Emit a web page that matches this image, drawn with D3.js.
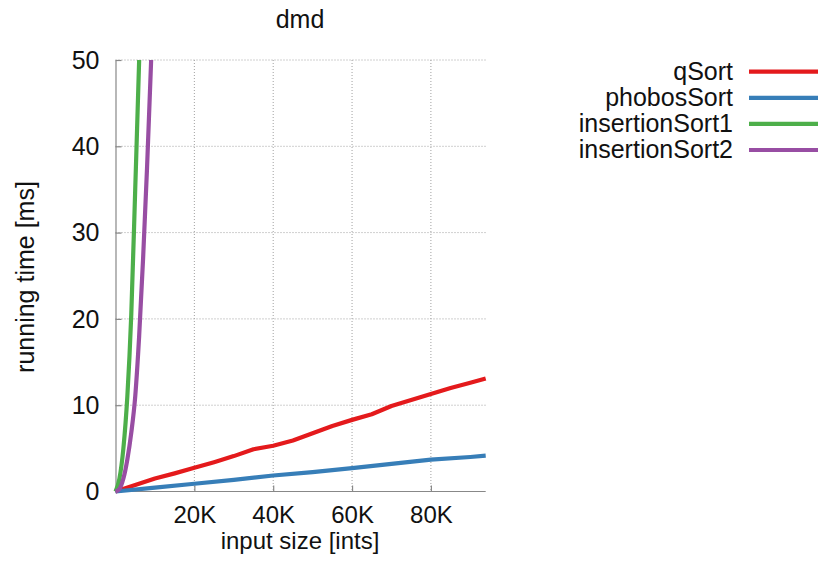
<!DOCTYPE html>
<html><head><meta charset="utf-8">
<script src="https://d3js.org/d3.v7.min.js"></script>
<style>body{margin:0;background:#fff}svg{display:block}text{font-family:"Liberation Sans",Arial,sans-serif;fill:#111}</style>
</head><body><svg id="c" width="818" height="569"></svg>
<script>
const title = "dmd";
const xLabel = "input size [ints]";
const yLabel = "running time [ms]";
const xTicks = [20000, 40000, 60000, 80000];
const xTickLabels = ["20K", "40K", "60K", "80K"];
const yTicks = [0, 10, 20, 30, 40, 50];
const seriesNames = ["qSort", "phobosSort", "insertionSort1", "insertionSort2"];
const seriesColors = ["#e41a1c", "#377eb8", "#4daf4a", "#984ea3"];
const qSortX = [0, 5000, 10000, 15000, 20000, 25000, 30000, 35000, 40000, 45000, 50000, 55000, 60000, 65000, 70000, 75000, 80000, 85000, 90000, 93900];
const qSortY = [0, 0.75, 1.5, 2.1, 2.75, 3.4, 4.1, 4.9, 5.3, 5.9, 6.75, 7.6, 8.3, 8.95, 9.9, 10.6, 11.3, 12.0, 12.6, 13.1];
const phobosX = [0, 10000, 20000, 30000, 40000, 50000, 60000, 70000, 80000, 90000, 93900];
const phobosY = [0, 0.45, 0.9, 1.35, 1.85, 2.25, 2.7, 3.2, 3.7, 4.0, 4.15];
const ins1X = [0, 1000, 2000, 3000, 4000, 5000, 6000, 7000];
const ins1Y = [0, 1.5, 5, 11, 20.5, 35, 50, 68];
const ins2X = [0, 1000, 2000, 3000, 4000, 5000, 6000, 7000, 8000, 9000, 10000];
const ins2Y = [0, 0.3, 1.5, 3.7, 6.8, 11, 18, 27, 37.5, 49.5, 62];
const yMax = 50;

const svg = d3.select("#c");
const L = 115.5, R = 485.7, T = 60, B = 491.5;
const x = d3.scaleLinear().domain([0, d3.max(qSortX)]).range([L, R]);
const y = d3.scaleLinear().domain([0, yMax]).range([B, T]);

// grid
const grid = svg.append("g").attr("stroke", "#a0a0a0").attr("stroke-width", 1).attr("stroke-dasharray", "1,2");
yTicks.filter(d => d > 0).forEach(d => grid.append("line").attr("x1", L).attr("x2", R).attr("y1", y(d)).attr("y2", y(d)));
xTicks.forEach(d => grid.append("line").attr("x1", x(d)).attr("x2", x(d)).attr("y1", T).attr("y2", B));

// axes
const yAxis = d3.axisLeft(y).tickValues(yTicks).tickSizeInner(-6).tickSizeOuter(0).tickPadding(16).tickFormat(d3.format("d"));
const gy = svg.append("g").attr("transform", `translate(${L},0)`).call(yAxis);
const xAxis = d3.axisBottom(x).tickValues(xTicks).tickSizeInner(-6).tickSizeOuter(0).tickPadding(18).tickFormat((d, i) => xTickLabels[i]);
const gx = svg.append("g").attr("transform", `translate(0,${B})`).call(xAxis);
[gx, gy].forEach(g => {
  g.select(".domain").attr("stroke", "#888").attr("stroke-width", 1.2);
  g.selectAll(".tick line").attr("stroke", "#888").attr("stroke-width", 1.2);
  g.selectAll(".tick text").attr("font-size", 24).attr("font-family", '"Liberation Sans",Arial,sans-serif').attr("fill", "#111");
});
gy.selectAll(".tick text").attr("font-size", 25);
gx.select(".domain").attr("d", `M${L},0H${R}`);
gx.selectAll(".tick text").attr("dy", null).attr("y", 31);
gy.selectAll(".tick text").attr("dy", "0.33em");

// clip
svg.append("clipPath").attr("id", "clip").append("rect").attr("x", L - 3).attr("y", T).attr("width", R - L + 6).attr("height", B - T + 4);

const series = [
  {xs: qSortX, ys: qSortY, curve: d3.curveLinear},
  {xs: phobosX, ys: phobosY, curve: d3.curveLinear},
  {xs: ins1X, ys: ins1Y, curve: d3.curveMonotoneX},
  {xs: ins2X, ys: ins2Y, curve: d3.curveMonotoneX}
];
const lg = svg.append("g").attr("clip-path", "url(#clip)");
series.forEach((s, i) => {
  const pts = s.xs.map((v, j) => [v, s.ys[j]]);
  lg.append("path").attr("d", d3.line().x(d => x(d[0])).y(d => y(d[1])).curve(s.curve)(pts))
    .attr("fill", "none").attr("stroke", seriesColors[i]).attr("stroke-width", 4.2).attr("stroke-linejoin", "round");
});

// legend
seriesNames.forEach((n, i) => {
  const ly = 71.7 + i * 26.1;
  svg.append("text").attr("x", 733).attr("y", ly + 8).attr("text-anchor", "end").attr("font-size", 25).text(n);
  svg.append("line").attr("x1", 749).attr("x2", 818).attr("y1", ly).attr("y2", ly).attr("stroke", seriesColors[i]).attr("stroke-width", 4.2);
});

// labels
svg.append("text").attr("x", 300).attr("y", 28).attr("text-anchor", "middle").attr("font-size", 25).text(title);
svg.append("text").attr("x", 300).attr("y", 549).attr("text-anchor", "middle").attr("font-size", 24).text(xLabel);
svg.append("text").attr("transform", "translate(34,277) rotate(-90)").attr("text-anchor", "middle").attr("font-size", 25).text(yLabel);
</script></body></html>
